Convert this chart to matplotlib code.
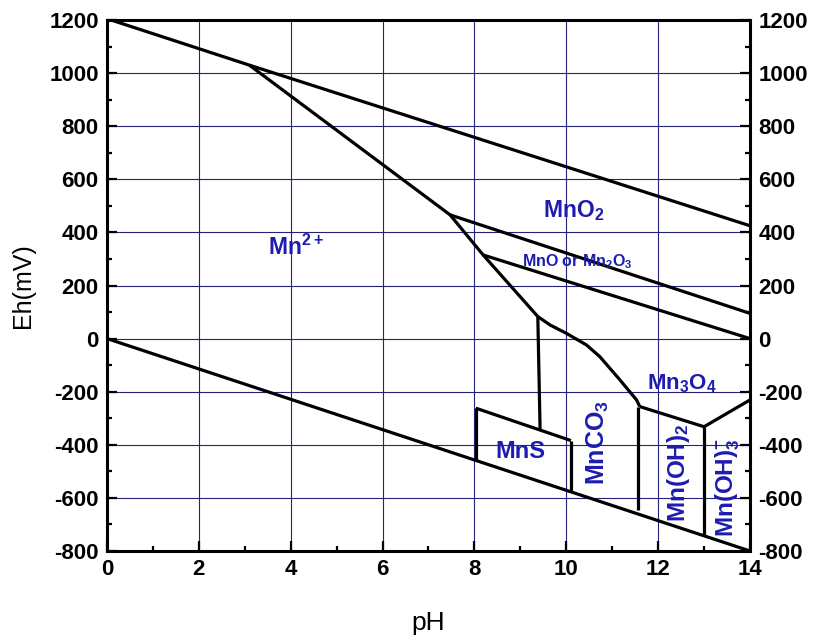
import matplotlib
matplotlib.use("Agg")
import matplotlib.pyplot as plt
from matplotlib.ticker import MultipleLocator

plt.rcParams['font.family'] = ['Liberation Sans', 'DejaVu Sans']
plt.rcParams['mathtext.default'] = 'regular'
plt.rcParams['axes.unicode_minus'] = False

# ---- data (pH, Eh in mV) ----
water_upper_ph = [0, 3.1, 14]
water_upper_eh = [1205, 1030, 425]
water_lower_ph = [0, 14]
water_lower_eh = [0, -800]
mn2_mno2_ph = [3.1, 7.47, 8.19, 9.38]
mn2_mno2_eh = [1030, 466, 315, 83]
mno2_lower_ph = [7.47, 14]
mno2_lower_eh = [466, 95]
mn2o3_lower_ph = [8.19, 14]
mn2o3_lower_eh = [315, 0]
mnco3_upper_ph = [9.38, 9.65, 10.0, 10.44, 10.73, 11.17, 11.53, 11.6]
mnco3_upper_eh = [83, 51, 20, -24, -68, -156, -231, -256]
mn2_mnco3_ph = [9.38, 9.43]
mn2_mnco3_eh = [83, -344]
mns_top_ph = [8.03, 10.1]
mns_top_eh = [-262, -384]
mns_left_ph = [8.03, 8.03]
mns_left_eh = [-262, -459]
mns_right_ph = [10.1, 10.1]
mns_right_eh = [-384, -577]
mnco3_mnoh2_ph = [11.57, 11.57]
mnco3_mnoh2_eh = [-256, -645]
mn3o4_lower_ph = [11.6, 13.0, 14]
mn3o4_lower_eh = [-256, -332, -231]
mnoh2_mnoh3_ph = [13.0, 13.0]
mnoh2_mnoh3_eh = [-332, -743]

boundaries = [
    (water_upper_ph, water_upper_eh), (water_lower_ph, water_lower_eh),
    (mn2_mno2_ph, mn2_mno2_eh), (mno2_lower_ph, mno2_lower_eh),
    (mn2o3_lower_ph, mn2o3_lower_eh), (mnco3_upper_ph, mnco3_upper_eh),
    (mn2_mnco3_ph, mn2_mnco3_eh), (mns_top_ph, mns_top_eh),
    (mns_left_ph, mns_left_eh), (mns_right_ph, mns_right_eh),
    (mnco3_mnoh2_ph, mnco3_mnoh2_eh), (mn3o4_lower_ph, mn3o4_lower_eh),
    (mnoh2_mnoh3_ph, mnoh2_mnoh3_eh),
]

x_ticks = [0, 2, 4, 6, 8, 10, 12, 14]
y_ticks = [-800, -600, -400, -200, 0, 200, 400, 600, 800, 1000, 1200]

blue = '#1c1cb0'
grid_c = '#23237a'

fig = plt.figure(figsize=(8.15, 6.39), dpi=100)
ax = fig.add_axes([107/815, 1-551/639, 643/815, 531/639])
ax.set_xlim(0, 14)
ax.set_ylim(-800, 1200)

ax.set_xticks(x_ticks)
ax.set_yticks(y_ticks)
ax.xaxis.set_minor_locator(MultipleLocator(1))
ax.yaxis.set_minor_locator(MultipleLocator(100))
ax.grid(True, which='major', color=grid_c, linewidth=0.8)
ax.set_axisbelow(True)

for xs, ys in boundaries:
    ax.plot(xs, ys, color='black', linewidth=2.3, solid_capstyle='butt',
            solid_joinstyle='miter', zorder=3)

ax.tick_params(axis='both', which='major', direction='in', length=7, width=1.6,
               labelsize=16, pad=6)
ax.tick_params(axis='both', which='minor', direction='in', length=3.8, width=1.6)
ax.tick_params(axis='y', which='both', left=True, right=True, labelright=True)
ax.tick_params(axis='x', which='both', top=False, bottom=True)
for t in ax.xaxis.get_major_ticks():
    t.label1.set_fontweight('bold')
for t in ax.yaxis.get_major_ticks():
    t.label1.set_fontweight('bold')
    t.label2.set_fontweight('bold')
for sp in ax.spines.values():
    sp.set_linewidth(2.2)

ax.set_xlabel('pH', fontsize=19, labelpad=22)
ax.set_ylabel('Eh(mV)', fontsize=18, labelpad=10)

tk = dict(color=blue, fontweight='bold', zorder=4)
ax.text(9.49, 458, 'MnO$_2$', fontsize=16.5, ha='left', va='baseline', **tk)
ax.text(3.5, 315, 'Mn$^{2+}$', fontsize=16.5, ha='left', va='baseline', **tk)
ax.text(9.03, 274, 'MnO or Mn$_2$O$_3$', fontsize=11.5, ha='left', va='baseline', **tk)
ax.text(11.76, -193, 'Mn$_3$O$_4$', fontsize=16, ha='left', va='baseline', **tk)
ax.text(8.45, -450, 'MnS', fontsize=17, ha='left', va='baseline', **tk)
ax.text(10.84, -551, 'MnCO$_3$', fontsize=18, rotation=90, rotation_mode='anchor',
        ha='left', va='baseline', **tk)
ax.text(12.58, -690, 'Mn(OH)$_2$', fontsize=17.5, rotation=90, rotation_mode='anchor',
        ha='left', va='baseline', **tk)
ax.text(13.63, -747, 'Mn(OH)$_3^{-}$', fontsize=17.5, rotation=90, rotation_mode='anchor',
        ha='left', va='baseline', **tk)

fig.savefig('out.png', dpi=100)
